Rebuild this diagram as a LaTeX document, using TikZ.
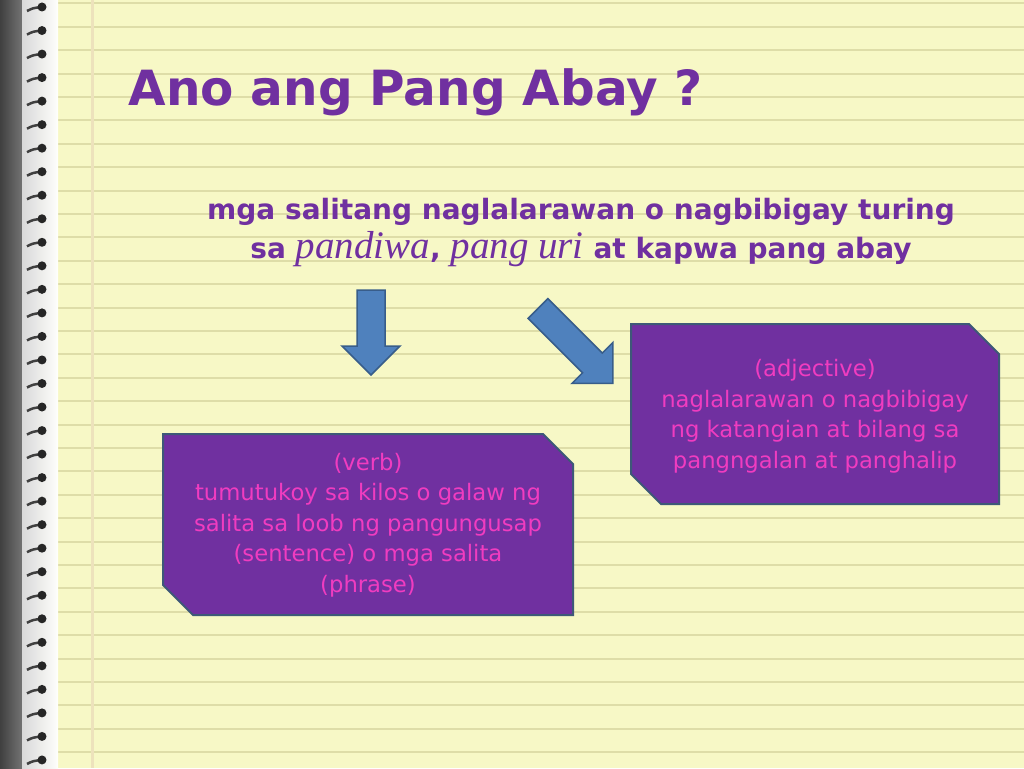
\documentclass[tikz,border=0pt]{standalone}
\usepackage{fontspec}
\setmainfont{DejaVu Sans}
\newfontfamily\italfont{Liberation Serif}
\usetikzlibrary{positioning}

\definecolor{paper}{HTML}{F7F8C6}
\definecolor{ruling}{HTML}{DEDDA8}
\definecolor{margincol}{HTML}{EDE2BC}
\definecolor{abaypurple}{HTML}{7030A0}
\definecolor{boxpink}{HTML}{F03CC0}
\definecolor{boxedge}{HTML}{3E5878}
\definecolor{arrowblue}{HTML}{4F81BD}
\definecolor{arrowedge}{HTML}{385D8A}

\tikzset{
  infobox/.style={fill=abaypurple, draw=boxedge, line width=2pt},
  boxtext/.style={text=boxpink, align=center, anchor=base, font=\fontsize{22.7}{30.5}\selectfont},
  blockarrow/.style={fill=arrowblue, draw=arrowedge, line width=1.5pt, line join=miter},
}

\begin{document}
\begin{tikzpicture}[x=1pt,y=-1pt]
	\useasboundingbox (0,0) rectangle (1024,768);
	
	% paper and binding
	\fill [paper] (0,0) rectangle (1024,768);
	\foreach \k in {0,...,32}
		\draw [ruling, line width=2pt] (55,3.4+23.4*\k) -- (1024,3.4+23.4*\k);
	\draw [margincol, line width=3pt] (92,0) -- (92,768);
	\shade [left color=black!75, right color=black!55] (0,0) rectangle (22,768);
	\shade [left color=black!15, right color=white!95!paper] (22,0) rectangle (58,768);
	\foreach \k in {0,...,32} {
		\draw [black!75, line width=2.5pt] (27,11+23.53*\k) .. controls (33,8+23.53*\k) .. (42,7+23.53*\k);
		\fill [black!85] (42,7+23.53*\k) circle (4.5pt);
	}
	
	% title and definition (base = last line)
	\node (title) [anchor=base west, text=abaypurple, font=\fontsize{48.5}{58}\selectfont\bfseries] at (125,105) {Ano ang Pang Abay ?};
	\node (defn) [anchor=base, align=center, text=abaypurple, font=\fontsize{28}{39}\selectfont\bfseries] at (581,258)
		{mga salitang naglalarawan o nagbibigay turing\\
		 sa {\italfont\mdseries\itshape\fontsize{39}{39}\selectfont pandiwa}, {\italfont\mdseries\itshape\fontsize{39}{39}\selectfont pang uri} at kapwa pang abay};
	
	% block arrows
	\foreach \ox/\oy/\len/\ang in {371/290/56/0, 538/308.5/77/45}
		\draw [blockarrow, shift={(\ox,\oy)}, rotate=\ang]
			(-14,0) -- (14,0) -- (14,\len) -- (29,\len) -- (0,\len+29) -- (-29,\len) -- (-14,\len) -- cycle;
	
	% boxes
	\draw [infobox] (163,434) -- (543,434) -- (573,464) -- (573,615) -- (193,615) -- (163,585) -- cycle;
	\node (verbtext) [boxtext] at (368,592)
		{(verb)\\tumutukoy sa kilos o galaw ng\\salita sa loob ng pangungusap\\(sentence) o mga salita\\(phrase)};
	
	\draw [infobox] (631,324) -- (969,324) -- (999,354) -- (999,504) -- (661,504) -- (631,474) -- cycle;
	\node (adjtext) [boxtext] at (815,468)
		{(adjective)\\naglalarawan o nagbibigay\\ng katangian at bilang sa\\pangngalan at panghalip};
	
\end{tikzpicture}
\end{document}
